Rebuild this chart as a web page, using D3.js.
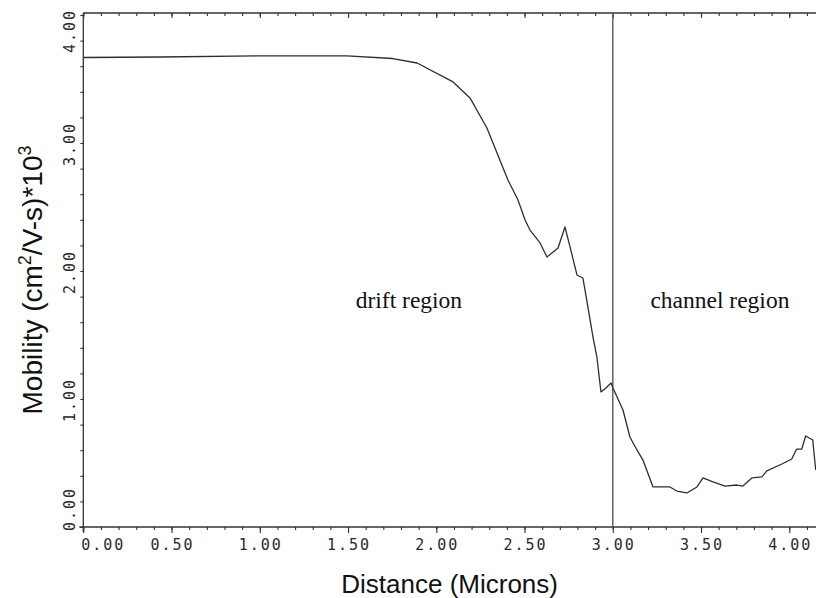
<!DOCTYPE html>
<html>
<head>
<meta charset="utf-8">
<script src="https://cdn.jsdelivr.net/npm/d3@7"></script>
<style>
  html, body { margin: 0; padding: 0; background: #fff; }
  svg { display: block; }
</style>
</head>
<body>
<svg id="chart" width="816" height="598"></svg>
<script>
// Electron mobility along the device, drift region then channel region
const distance = [
  0.000, 0.435, 0.984, 1.494, 1.754, 1.891, 2.095, 2.191, 2.287, 2.406,
  2.463, 2.503, 2.531, 2.588, 2.627, 2.690, 2.729, 2.758, 2.797, 2.831,
  2.859, 2.888, 2.910, 2.933, 2.961, 2.990, 3.001, 3.058, 3.097, 3.137,
  3.171, 3.228, 3.324, 3.363, 3.420, 3.477, 3.511, 3.568, 3.636, 3.703,
  3.737, 3.788, 3.845, 3.873, 3.958, 4.014, 4.042, 4.071, 4.093, 4.133,
  4.150
];
const mobility = [
  3.668, 3.672, 3.680, 3.680, 3.660, 3.625, 3.477, 3.352, 3.117, 2.711,
  2.555, 2.398, 2.320, 2.219, 2.109, 2.180, 2.344, 2.188, 1.969, 1.945,
  1.719, 1.484, 1.328, 1.055, 1.086, 1.125, 1.086, 0.914, 0.703, 0.602,
  0.523, 0.313, 0.313, 0.281, 0.266, 0.313, 0.383, 0.352, 0.320, 0.328,
  0.320, 0.383, 0.391, 0.438, 0.492, 0.531, 0.609, 0.609, 0.711, 0.680,
  0.445
];

const xMajorTicks = [0, 0.5, 1.0, 1.5, 2.0, 2.5, 3.0, 3.5, 4.0];
const xMinorTicks = d3.range(0, 4.16, 0.1);
const yMajorTicks = [0, 1, 2, 3, 4];
const yMinorTicks = d3.range(0, 4.01, 0.2);
const regionLabels = ["drift region", "channel region"];
const boundary = 3.0;

const svg = d3.select("#chart");

const x = d3.scaleLinear().domain([0, 4.16]).range([83.3, 817.5]);
const y = d3.scaleLinear().domain([0, 4]).range([527, 15]);
const plotTop = 13;
const plotBottom = y(0);
const plotLeft = x(0);
const plotRight = 816;

const fmt = d3.format(".2f");
const axisColor = "#333";
const tickFont = "'DejaVu Sans Mono', monospace";

// Frame lines
svg.append("line").attr("x1", plotLeft - 4).attr("x2", plotRight)
  .attr("y1", plotBottom).attr("y2", plotBottom)
  .attr("stroke", axisColor).attr("stroke-width", 1.3);
svg.append("line").attr("x1", plotLeft).attr("x2", plotRight)
  .attr("y1", plotTop).attr("y2", plotTop)
  .attr("stroke", axisColor).attr("stroke-width", 1.3);
svg.append("line").attr("x1", plotLeft).attr("x2", plotLeft)
  .attr("y1", plotTop).attr("y2", plotBottom + 5)
  .attr("stroke", axisColor).attr("stroke-width", 1.3);

function styleAxis(g) {
  g.select(".domain").remove();
  g.selectAll(".tick line").attr("stroke", axisColor).attr("stroke-width", 1.1);
}

// Bottom axis ticks (outward)
svg.append("g").attr("transform", `translate(0,${plotBottom})`)
  .call(d3.axisBottom(x).tickValues(xMinorTicks).tickSize(3).tickFormat(""))
  .call(styleAxis);
svg.append("g").attr("transform", `translate(0,${plotBottom})`)
  .call(d3.axisBottom(x).tickValues(xMajorTicks).tickSize(6).tickFormat(""))
  .call(styleAxis);

// Top axis ticks (inward)
svg.append("g").attr("transform", `translate(0,${plotTop})`)
  .call(d3.axisTop(x).tickValues(xMinorTicks).tickSize(-3).tickFormat(""))
  .call(styleAxis);
svg.append("g").attr("transform", `translate(0,${plotTop})`)
  .call(d3.axisTop(x).tickValues(xMajorTicks).tickSize(-5).tickFormat(""))
  .call(styleAxis);

// Left axis ticks (outward)
svg.append("g").attr("transform", `translate(${plotLeft},0)`)
  .call(d3.axisLeft(y).tickValues(yMinorTicks).tickSize(3).tickFormat(""))
  .call(styleAxis);

// X tick labels
svg.append("g").selectAll("text")
  .data(xMajorTicks)
  .join("text")
  .attr("x", d => d === 0 ? x(d) + 20 : x(d) + 1)
  .attr("y", 550)
  .attr("text-anchor", "middle")
  .attr("font-family", tickFont)
  .attr("font-size", 15)
  .attr("letter-spacing", 2)
  .attr("fill", "#2a2a2a")
  .text(fmt);

// Y tick labels (rotated)
svg.append("g").selectAll("text")
  .data(yMajorTicks)
  .join("text")
  .attr("transform", d => {
    let cy = y(d);
    if (d === 0) cy -= 19;
    if (d === 4) cy += 15;
    return `translate(75,${cy + 1}) rotate(-90)`;
  })
  .attr("text-anchor", "middle")
  .attr("font-family", tickFont)
  .attr("font-size", 15)
  .attr("letter-spacing", 2)
  .attr("fill", "#2a2a2a")
  .text(fmt);

// Boundary between drift and channel regions
svg.append("line")
  .attr("x1", x(boundary)).attr("x2", x(boundary))
  .attr("y1", plotTop).attr("y2", plotBottom)
  .attr("stroke", "#6a6a6a").attr("stroke-width", 1.6);

// Mobility curve
const line = d3.line().x((d, i) => x(distance[i])).y(d => y(d));
svg.append("path")
  .datum(mobility)
  .attr("d", line)
  .attr("fill", "none")
  .attr("stroke", "#2e2e2e")
  .attr("stroke-width", 1.3)
  .attr("stroke-linejoin", "round");

// Region annotations
const regionPos = [1.845, 3.607];
svg.append("g").selectAll("text")
  .data(regionLabels)
  .join("text")
  .attr("x", (d, i) => x(regionPos[i]))
  .attr("y", y(1.71))
  .attr("text-anchor", "middle")
  .attr("font-family", "'Liberation Serif', 'Times New Roman', serif")
  .attr("font-size", 23.5)
  .attr("fill", "#111")
  .text(d => d);

// Axis titles
svg.append("text")
  .attr("x", (plotLeft + plotRight) / 2)
  .attr("y", 593)
  .attr("text-anchor", "middle")
  .attr("font-family", "'Liberation Sans', Arial, sans-serif")
  .attr("font-size", 26)
  .attr("fill", "#111")
  .text("Distance (Microns)");

const yTitle = svg.append("text")
  .attr("transform", "translate(42,280) rotate(-90)")
  .attr("text-anchor", "middle")
  .attr("font-family", "'Liberation Sans', Arial, sans-serif")
  .attr("font-size", 28)
  .attr("fill", "#111");
yTitle.append("tspan").text("Mobility (cm");
yTitle.append("tspan").attr("font-size", 18).attr("dy", -11).text("2");
yTitle.append("tspan").attr("dy", 11).text("/V-s)*10");
yTitle.append("tspan").attr("font-size", 18).attr("dy", -11).text("3");
</script>
</body>
</html>
